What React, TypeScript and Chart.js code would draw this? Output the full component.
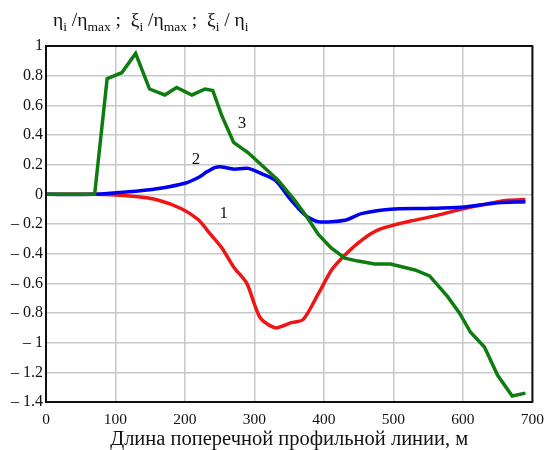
import React, { useEffect, useRef } from "react";
import { Chart, registerables } from "chart.js";

Chart.register(...registerables);

const greenX = [0, 70, 88, 109, 129, 149, 171, 188, 210, 229, 240, 253, 270, 291, 334, 358, 375, 392, 410, 430, 449, 473, 496, 531, 552, 578, 595, 611, 631, 650, 671, 690];
const greenY = [0, 0, 0.78, 0.82, 0.95, 0.71, 0.67, 0.72, 0.67, 0.71, 0.7, 0.53, 0.35, 0.28, 0.095, -0.04, -0.15, -0.27, -0.36, -0.43, -0.45, -0.47, -0.47, -0.51, -0.55, -0.69, -0.8, -0.93, -1.03, -1.22, -1.36, -1.34];

const blueX = [0, 70, 115, 162, 200, 220, 231, 243, 253, 270, 291, 310, 330, 353, 373, 392, 430, 454, 496, 549, 602, 645, 690];
const blueY = [0, 0, 0.015, 0.04, 0.075, 0.115, 0.15, 0.18, 0.185, 0.17, 0.175, 0.14, 0.095, -0.04, -0.14, -0.185, -0.175, -0.13, -0.1, -0.095, -0.085, -0.06, -0.05];

const redX = [0, 70, 129, 162, 195, 219, 236, 253, 270, 289, 308, 330, 353, 370, 392, 411, 430, 454, 478, 506, 525, 564, 602, 640, 665, 690];
const redY = [0, 0, -0.015, -0.04, -0.097, -0.17, -0.265, -0.36, -0.49, -0.6, -0.83, -0.9, -0.865, -0.845, -0.67, -0.51, -0.41, -0.31, -0.24, -0.2, -0.18, -0.14, -0.095, -0.06, -0.04, -0.035];

const curveLabels = ["1", "2", "3"];
const curveLabelX = [256, 216, 282];
const curveLabelY = [-0.13, 0.236, 0.48];

const xTitle = "Длина поперечной профильной линии, м";
// top title pieces: [text, isSubscript]
const topTitle: [string, boolean][] = [
  ["η", false], ["i", true], [" /η", false], ["max", true],
  [" ;  ξ", false], ["i", true], [" /η", false], ["max", true],
  [" ;  ξ", false], ["i", true], [" / η", false], ["i", true],
];

const SERIF = "'Liberation Serif', 'Times New Roman', serif";

const pts = (xs: number[], ys: number[]) => xs.map((x, i) => ({ x, y: ys[i] }));

export default function App() {
  const ref = useRef<HTMLCanvasElement | null>(null);
  useEffect(() => {
    document.body.style.margin = "0";
    const canvas = ref.current!;
    const textPlugin = {
      id: "texts",
      afterDraw(chart: any) {
        const ctx = chart.ctx;
        const { chartArea, scales } = chart;
        ctx.save();
        // box border
        ctx.strokeStyle = "#111";
        ctx.lineWidth = 2;
        ctx.strokeRect(chartArea.left, chartArea.top, chartArea.right - chartArea.left, chartArea.bottom - chartArea.top);
        // top title with subscripts
        let x = 53;
        const base = 26;
        ctx.fillStyle = "#111";
        ctx.textBaseline = "alphabetic";
        ctx.textAlign = "left";
        for (const [t, sub] of topTitle) {
          ctx.font = sub ? `13.5px ${SERIF}` : `19.5px ${SERIF}`;
          ctx.fillText(t, x, sub ? base + 5 : base);
          x += ctx.measureText(t).width;
        }
        // curve labels
        ctx.font = `17px ${SERIF}`;
        ctx.textAlign = "center";
        ctx.textBaseline = "middle";
        curveLabels.forEach((l, i) => {
          ctx.fillText(l, scales.x.getPixelForValue(curveLabelX[i]), scales.y.getPixelForValue(curveLabelY[i]));
        });
        ctx.restore();
      },
    };
    const chart = new Chart(canvas, {
      type: "line",
      data: {
        datasets: [
          { label: "3", data: pts(greenX, greenY), borderColor: "#0e7c0e", borderWidth: 3.5, pointRadius: 0, tension: 0, fill: false },
          { label: "2", data: pts(blueX, blueY), borderColor: "#0000f0", borderWidth: 3.5, pointRadius: 0, tension: 0.25, fill: false },
          { label: "1", data: pts(redX, redY), borderColor: "#f01414", borderWidth: 3.5, pointRadius: 0, tension: 0.25, fill: false },
        ],
      },
      options: {
        animation: false,
        responsive: false,
        maintainAspectRatio: false,
        layout: { padding: { top: 46, right: 18, left: 0, bottom: 0 } },
        plugins: { legend: { display: false }, tooltip: { enabled: false }, title: { display: false } },
        scales: {
          x: {
            type: "linear",
            min: 0,
            max: 700,
            afterFit: (s: any) => { s.height = 48; },
            grid: { color: "#c8c8c8", lineWidth: 1.5, drawTicks: false },
            border: { display: false },
            ticks: { stepSize: 100, padding: 9, color: "#111", font: { family: SERIF, size: 15.5 }, maxRotation: 0 },
            title: { display: true, text: xTitle, color: "#111", font: { family: SERIF, size: 20.5, lineHeight: 1.0 }, padding: { top: 0, bottom: 0 } },
          },
          y: {
            type: "linear",
            min: -1.4,
            max: 1,
            afterFit: (s: any) => { s.width = 46; },
            grid: { color: "#c8c8c8", lineWidth: 1.5, drawTicks: false },
            border: { display: false },
            ticks: {
              stepSize: 0.2,
              padding: 3,
              color: "#111",
              font: { family: SERIF, size: 16 },
              callback: (v: any) => {
                const n = Math.round(Number(v) * 10) / 10;
                if (Math.abs(n) < 1e-9) return "0";
                return n < 0 ? "– " + String(Math.abs(n)) : String(n);
              },
            },
          },
        },
      },
      plugins: [textPlugin],
    });
    return () => chart.destroy();
  }, []);
  return <canvas ref={ref} width={553} height={450} style={{ display: "block", width: 553, height: 450 }} />;
}
